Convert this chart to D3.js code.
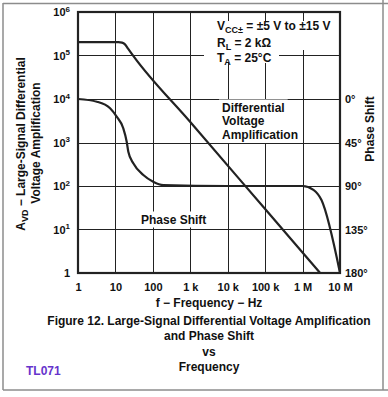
<!DOCTYPE html>
<html>
<head>
<meta charset="utf-8">
<script src="https://cdn.jsdelivr.net/npm/d3@7"></script>
<style>
  html, body { margin: 0; padding: 0; background: #fff; }
  svg { display: block; }
  text { font-family: Arial, "Liberation Sans", Helvetica, sans-serif; font-weight: bold; fill: #111; }
</style>
</head>
<body>
<svg id="chart" width="388" height="397"></svg>
<script>
// ---- data ----
const xTicks = [1, 10, 100, 1e3, 1e4, 1e5, 1e6, 1e7];
const xTickLabels = ["1", "10", "100", "1 k", "10 k", "100 k", "1 M", "10 M"];
const yTicks = [1, 10, 100, 1e3, 1e4, 1e5, 1e6];
const yTickExponents = [null, "1", "2", "3", "4", "5", "6"];
const phaseTicks = [0, 45, 90, 135, 180];

const gainFreq  = [1, 12, 15, 18, 22, 30, 1e3, 1e5, 2.95e6];
const gainValue = [2.04e5, 2.04e5, 1.98e5, 1.8e5, 1.42e5, 9.8e4, 2950, 29.5, 1];

const phaseFreq = [1, 3.2, 7.2, 10.8, 16.2, 20, 22.1, 30, 55.6, 102, 190, 1e4, 1e6, 1.95e6, 3.2e6, 1e7];
const phaseDeg  = [0, 2.8, 9.6, 18.3, 30.3, 44.2, 54.5, 66.5, 78.6, 85.5, 89, 90, 90, 94, 104.5, 180];

// ---- layout ----
const L = 78, R = 340, T = 12, B = 273;
const svg = d3.select("#chart");

const x = d3.scaleLog().domain([1, 1e7]).range([L, R]);
const y = d3.scaleLog().domain([1, 1e6]).range([B, T]);
const yPhase = d3.scaleLinear().domain([0, 180]).range([y(1e4), y(1)]);

// outer frame
const frame = svg.append("g").attr("stroke", "#8c8c8c").attr("stroke-width", 1.5).attr("fill", "none");
frame.append("line").attr("x1", 3).attr("x2", 388).attr("y1", 3.5).attr("y2", 3.5);
frame.append("line").attr("x1", 3).attr("x2", 3).attr("y1", 3).attr("y2", 390);
frame.append("line").attr("x1", 3).attr("x2", 388).attr("y1", 390).attr("y2", 390);
frame.append("line").attr("x1", 383).attr("x2", 383).attr("y1", 0).attr("y2", 390);

// gridlines
const grid = svg.append("g").attr("stroke", "#222").attr("stroke-width", 1);
grid.selectAll("line.v").data(xTicks.slice(1, -1)).join("line")
  .attr("x1", d => Math.round(x(d)) + 0.5).attr("x2", d => Math.round(x(d)) + 0.5)
  .attr("y1", T).attr("y2", B);
grid.selectAll("line.h").data(yTicks.slice(1, -1)).join("line")
  .attr("y1", d => Math.round(y(d)) + 0.5).attr("y2", d => Math.round(y(d)) + 0.5)
  .attr("x1", L).attr("x2", R);

// text boxes (white background over grid)
function boxedText(g, lines, x0, baselines, size, pad) {
  const t = [];
  lines.forEach((ln, i) => {
    const tx = g.append("text").attr("x", x0).attr("y", baselines[i]).style("font-size", size + "px");
    ln.forEach(part => {
      const ts = tx.append("tspan").text(part.t);
      if (part.sub) ts.style("font-size", (size * 0.75) + "px").attr("dy", 3);
      else if (part.after) ts.attr("dy", -3);
    });
    t.push(tx);
  });
  return t;
}

// annotation backgrounds
svg.append("rect").attr("x", 204).attr("y", 21).attr("width", 132).attr("height", 29).attr("fill", "#fff");
svg.append("rect").attr("x", 204).attr("y", 49).attr("width", 75).attr("height", 14).attr("fill", "#fff");

const ann = svg.append("g");
boxedText(ann, [
  [{t: "V"}, {t: "CC±", sub: true}, {t: " = ±5 V to ±15 V", after: true}],
  [{t: "R"}, {t: "L", sub: true}, {t: " = 2 kΩ", after: true}],
  [{t: "T"}, {t: "A", sub: true}, {t: " = 25°C", after: true}]
], 217, [29.5, 46.5, 61.5], 12);

// in-plot labels with white bg
function labelWithBg(lines, x0, baselines) {
  const g = svg.append("g");
  const texts = lines.map((s, i) => g.append("text").attr("x", x0).attr("y", baselines[i]).style("font-size", "12px").text(s));
  texts.forEach(tx => {
    const bb = tx.node().getBBox();
    g.insert("rect", "text").attr("x", bb.x - 3).attr("y", bb.y - 1).attr("width", bb.width + 6).attr("height", bb.height + 2).attr("fill", "#fff");
  });
}
labelWithBg(["Differential", "Voltage", "Amplification"], 222, [111.5, 125, 139]);
labelWithBg(["Phase Shift"], 141, [223.5]);

// curves
const line = d3.line().x(d => x(d[0])).y(d => d[1]).curve(d3.curveMonotoneX);
svg.append("path")
  .attr("d", line(gainFreq.map((f, i) => [f, y(gainValue[i])])))
  .attr("fill", "none").attr("stroke", "#222").attr("stroke-width", 2.2);
svg.append("path")
  .attr("d", line(phaseFreq.map((f, i) => [f, yPhase(phaseDeg[i])])))
  .attr("fill", "none").attr("stroke", "#222").attr("stroke-width", 2.2);

// plot frame
const pf = svg.append("g").attr("stroke", "#222").attr("stroke-width", 2.2).attr("fill", "none");
pf.append("rect").attr("x", L).attr("y", T).attr("width", R - L).attr("height", B - T);

// axes
const xAxis = d3.axisBottom(x).tickValues(xTicks).tickSize(0).tickPadding(10)
  .tickFormat((d, i) => xTickLabels[i]);
const gx = svg.append("g").attr("transform", `translate(0,${B})`).call(xAxis);
gx.select(".domain").remove();
gx.selectAll("text").style("font-size", "11px").style("font-family", "Arial, 'Liberation Sans', sans-serif").style("font-weight", "bold").attr("fill", "#111");

const yAxis = d3.axisLeft(y).tickValues(yTicks).tickSize(0).tickPadding(8).tickFormat(() => "");
const gy = svg.append("g").attr("transform", `translate(${L},0)`).call(yAxis);
gy.select(".domain").remove();
gy.selectAll(".tick text").each(function(d, i) {
  const t = d3.select(this).attr("dy", "0.35em").style("font-size", "11px")
    .style("font-family", "Arial, 'Liberation Sans', sans-serif").style("font-weight", "bold").attr("fill", "#111");
  const idx = yTicks.indexOf(d);
  if (yTickExponents[idx] === null) { t.text("1"); }
  else {
    t.append("tspan").text("10");
    t.append("tspan").text(yTickExponents[idx]).style("font-size", "8px").attr("dy", "-0.55em");
  }
});

const pAxis = d3.axisRight(yPhase).tickValues(phaseTicks).tickSize(0).tickPadding(5).tickFormat(d => d + "°");
const gp = svg.append("g").attr("transform", `translate(${R},0)`).call(pAxis);
gp.select(".domain").remove();
gp.selectAll("text").style("font-size", "11px").style("font-family", "Arial, 'Liberation Sans', sans-serif").style("font-weight", "bold").attr("fill", "#111");

// axis titles
const ylab = svg.append("text").attr("transform", "translate(25,144) rotate(-90)").attr("text-anchor", "middle").style("font-size", "12px");
ylab.append("tspan").text("A");
ylab.append("tspan").text("VD").style("font-size", "9px").attr("dy", 3);
ylab.append("tspan").text(" − Large-Signal Differential").attr("dy", -3);
svg.append("text").attr("transform", "translate(40,143) rotate(-90)").attr("text-anchor", "middle").style("font-size", "12px").text("Voltage Amplification");

svg.append("text").attr("transform", "translate(374,129) rotate(-90)").attr("text-anchor", "middle").style("font-size", "12px").text("Phase Shift");

svg.append("text").attr("x", 209).attr("y", 307).attr("text-anchor", "middle").style("font-size", "12px").text("f − Frequency − Hz");

const titleLines = ["Figure 12. Large-Signal Differential Voltage Amplification", "and Phase Shift", "vs", "Frequency"];
const titleY = [325, 340, 356, 371];
titleLines.forEach((s, i) => svg.append("text").attr("x", 209).attr("y", titleY[i]).attr("text-anchor", "middle").style("font-size", "12px").text(s));

svg.append("text").attr("x", 26).attr("y", 375).style("font-size", "12px").style("fill", "#6633cc").text("TL071");
</script>
</body>
</html>
